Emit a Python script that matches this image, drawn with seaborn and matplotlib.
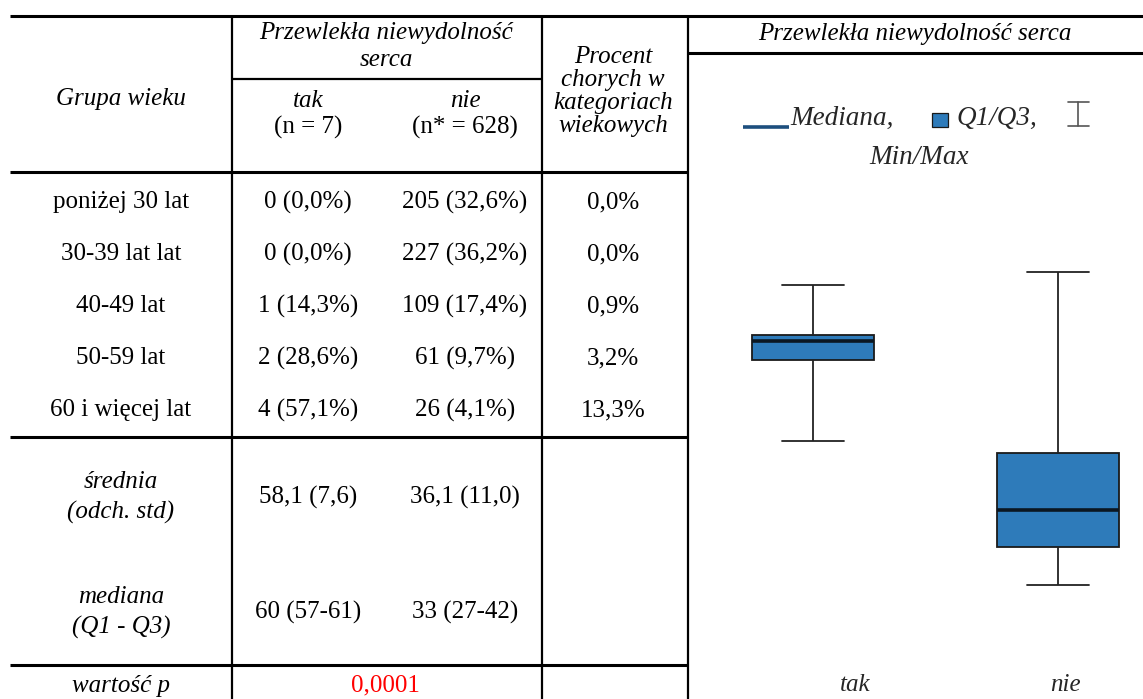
import numpy as np
import pandas as pd
import matplotlib
matplotlib.use("Agg")
import matplotlib.pyplot as plt
import seaborn as sns
from matplotlib.transforms import ScaledTranslation
from matplotlib.patches import Rectangle
from matplotlib.lines import Line2D

# ---------------- data ----------------
grupy_wieku = ["poniżej 30 lat", "30-39 lat lat", "40-49 lat", "50-59 lat", "60 i więcej lat"]
tak_liczba = [0, 0, 1, 2, 4]
tak_procent = [0.0, 0.0, 14.3, 28.6, 57.1]
nie_liczba = [205, 227, 109, 61, 26]
nie_procent = [32.6, 36.2, 17.4, 9.7, 4.1]
procent_chorych = [0.0, 0.0, 0.9, 3.2, 13.3]

grupy = ["tak", "nie"]
liczebnosc = ["(n = 7)", "(n* = 628)"]
srednia = [58.1, 36.1]
odch_std = [7.6, 11.0]
mediana = [60, 33]
q1 = [57, 27]
q3 = [61, 42]
wiek_min = [44, 21]
wiek_max = [69, 71]
wartosc_p = "0,0001"


def pl(v, d=1):
    return f"{v:.{d}f}".replace(".", ",")


# ---------------- figure ----------------
sns.set_theme(style="white")
plt.rcParams["font.family"] = ["Liberation Serif", "DejaVu Serif"]

W, H = 1143, 699
fig = plt.figure(figsize=(W / 100, H / 100), dpi=100)
fig.patch.set_facecolor("white")

tab = fig.add_axes([0, 0, 1, 1])
tab.set_xlim(0, W)
tab.set_ylim(H, 0)
tab.axis("off")

FS = 18
LW_H = 2.2
LW_V = 1.6

# horizontal rules
tab.plot([10, W], [16, 16], color="black", lw=LW_H, solid_capstyle="butt")
tab.plot([232, 542], [79, 79], color="black", lw=1.6, solid_capstyle="butt")
tab.plot([10, 688], [172, 172], color="black", lw=LW_H, solid_capstyle="butt")
tab.plot([10, 688], [437, 437], color="black", lw=LW_H, solid_capstyle="butt")
tab.plot([10, 688], [665, 665], color="black", lw=LW_H, solid_capstyle="butt")
tab.plot([688, W], [53, 53], color="black", lw=LW_H, solid_capstyle="butt")
# vertical rules
for xv in (232, 542, 688):
    tab.plot([xv, xv], [16, H], color="black", lw=LW_V, solid_capstyle="butt")

cx_grp, cx_tak, cx_nie, cx_proc = 121, 308, 465, 613


def T(x, y, s, style="normal", size=FS, color="black", ha="center"):
    tab.text(x, y, s, ha=ha, va="center", fontsize=size, fontstyle=style, color=color)


# header
T(cx_grp, 99, "Grupa wieku", "italic")
T(386, 33, "Przewlekła niewydolność", "italic")
T(386, 60, "serca", "italic")
for cx, g, n in zip((cx_tak, cx_nie), grupy, liczebnosc):
    T(cx, 101, g, "italic")
    T(cx, 127, n)
for yy, s in zip((57, 80, 103, 126), ("Procent", "chorych w", "kategoriach", "wiekowych")):
    T(cx_proc, yy, s, "italic")

# body rows
row_y = [202, 254, 306, 358, 410]
for i, y in enumerate(row_y):
    T(cx_grp, y, grupy_wieku[i])
    T(cx_tak, y, f"{tak_liczba[i]} ({pl(tak_procent[i])}%)")
    T(cx_nie, y, f"{nie_liczba[i]} ({pl(nie_procent[i])}%)")
    T(cx_proc, y, f"{pl(procent_chorych[i])}%")

# statistics
T(cx_grp, 482, "średnia", "italic")
T(cx_grp, 512, "(odch. std)", "italic")
T(cx_grp, 597, "mediana", "italic")
T(cx_grp, 627, "(Q1 - Q3)", "italic")
for cx, m, s, md, a, b in zip((cx_tak, cx_nie), srednia, odch_std, mediana, q1, q3):
    T(cx, 497, f"{pl(m)} ({pl(s)})")
    T(cx, 612, f"{md} ({a}-{b})")
T(cx_grp, 686, "wartość p", "italic")
T(385, 685, wartosc_p, color="red")

# right panel title
T(915, 34, "Przewlekła niewydolność serca", "italic")

# ---------------- legend (manual, Excel style) ----------------
BOX_FILL = "#2E7BBA"
LFS = 19.5
tab.add_line(Line2D([743, 789], [127, 127], color="#1d4f7e", lw=2.6, solid_capstyle="butt"))
tab.text(790, 118, "Mediana,", ha="left", va="center", fontsize=LFS, fontstyle="italic")
tab.add_patch(Rectangle((932, 113), 16, 14, facecolor=BOX_FILL, edgecolor="#1a1a1a", lw=0.9))
tab.text(957, 118, "Q1/Q3,", ha="left", va="center", fontsize=LFS, fontstyle="italic")
tab.add_line(Line2D([1078, 1078], [102, 126], color="#555555", lw=1.2))
tab.add_line(Line2D([1068, 1089], [102, 102], color="#555555", lw=1.2))
tab.add_line(Line2D([1068, 1089], [126, 126], color="#555555", lw=1.2))
tab.text(919, 157, "Min/Max", ha="center", va="center", fontsize=LFS, fontstyle="italic")

# ---------------- box plot ----------------
rows = []
for g, a, b, c, d, e in zip(grupy, wiek_min, q1, mediana, q3, wiek_max):
    for v in (a, b, c, d, e):
        rows.append({"grupa": g, "wiek": v})
df = pd.DataFrame(rows)

y_top_px, y_bot_px = 215.75, 653.25
ax = fig.add_axes([690 / W, 1 - y_bot_px / H, 453 / W, (y_bot_px - y_top_px) / H])
ax.patch.set_alpha(0)
sns.boxplot(
    data=df, x="grupa", y="wiek", order=grupy, ax=ax,
    whis=(0, 100), width=0.5, color=BOX_FILL, saturation=1,
    linecolor="#1a1a1a", linewidth=1.3,
    medianprops={"color": "#0b1722", "linewidth": 2.6},
    whiskerprops={"color": "#222222", "linewidth": 1.3},
    capprops={"color": "#222222", "linewidth": 1.3},
)
ax.set_xlim(-0.502, 1.347)
ax.set_ylim(10, 80)
ax.set_xlabel("")
ax.set_ylabel("")
ax.set_yticks([])
for sp in ax.spines.values():
    sp.set_visible(False)
ax.set_xticks([0, 1])
ax.set_xticklabels(grupy, fontsize=FS, fontstyle="italic")
ax.tick_params(axis="x", length=0, pad=15)
for lab, dx in zip(ax.get_xticklabels(), (0.42, 0.07)):
    lab.set_transform(lab.get_transform() + ScaledTranslation(dx, 0, fig.dpi_scale_trans))

fig.savefig("out.png", dpi=100, facecolor="white")
